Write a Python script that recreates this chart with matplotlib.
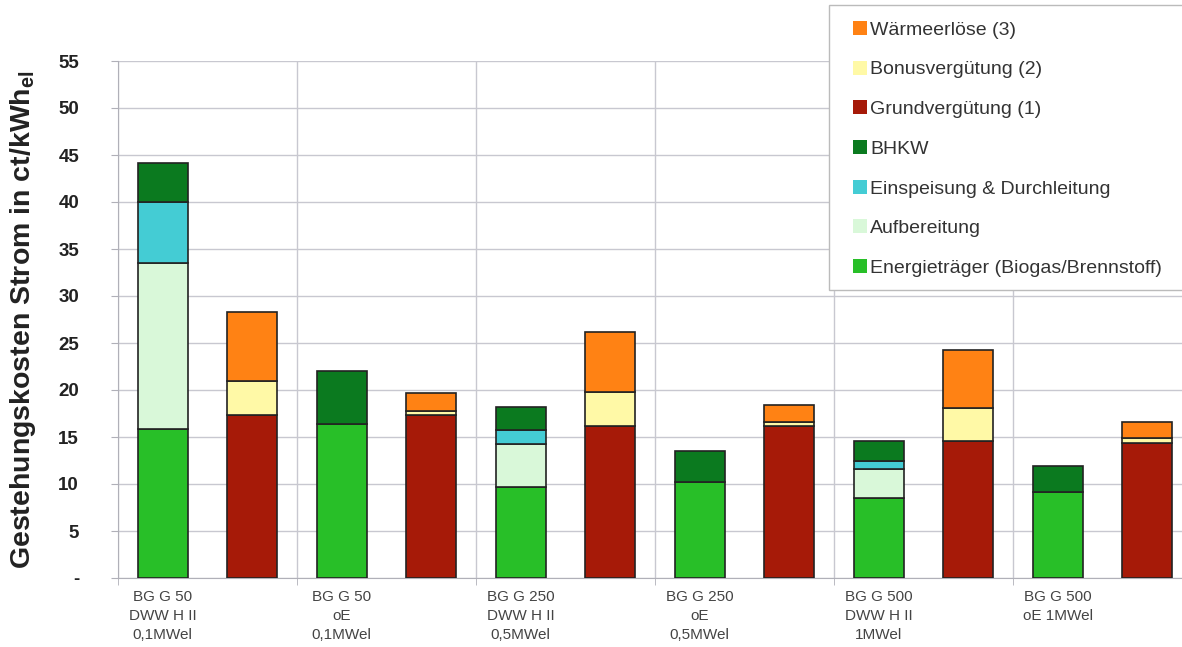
import matplotlib
matplotlib.use("Agg")
import matplotlib.pyplot as plt
from matplotlib.patches import Patch, Rectangle
import numpy as np

plt.rcParams['font.family'] = ['Liberation Sans', 'DejaVu Sans']
plt.rcParams['mathtext.fontset'] = 'custom'
plt.rcParams['mathtext.rm'] = 'Liberation Sans'
plt.rcParams['mathtext.bf'] = 'Liberation Sans:bold'

categories = ["BG G 50\nDWW H II\n0,1MWel", "BG G 50\noE\n0,1MWel",
              "BG G 250\nDWW H II\n0,5MWel", "BG G 250\noE\n0,5MWel",
              "BG G 500\nDWW H II\n1MWel", "BG G 500\noE 1MWel"]

# cost side (stacked)
energietraeger = [15.8, 16.4, 9.7, 10.2, 8.5, 9.2]
aufbereitung = [17.7, 0.0, 4.6, 0.0, 3.1, 0.0]
einspeisung = [6.5, 0.0, 1.4, 0.0, 0.8, 0.0]
bhkw = [4.1, 5.6, 2.5, 3.3, 2.2, 2.7]
# revenue side (stacked)
grundverguetung = [17.3, 17.3, 16.2, 16.2, 14.6, 14.4]
bonusverguetung = [3.7, 0.5, 3.6, 0.4, 3.5, 0.5]
waermeerloese = [7.3, 1.9, 6.4, 1.8, 6.2, 1.7]

yticks = [0, 5, 10, 15, 20, 25, 30, 35, 40, 45, 50, 55]
yticklabels = ["-", "5", "10", "15", "20", "25", "30", "35", "40", "45", "50", "55"]

c_energie = "#28bf28"
c_aufb = "#d9f8d9"
c_einsp = "#44ccd4"
c_bhkw = "#0b7a1f"
c_grund = "#a61a08"
c_bonus = "#fff9a6"
c_waerme = "#ff8214"
edge = "#222222"

W, H = 1182, 647
fig = plt.figure(figsize=(W / 100, H / 100), dpi=100)
ax = fig.add_axes([118 / W, 69 / H, 1074 / W, 517 / H])

n = len(categories)
idx = np.arange(n)
xc = idx + 0.25
xr = idx + 0.75
w = 0.28

cost_series = [(energietraeger, c_energie), (aufbereitung, c_aufb),
               (einspeisung, c_einsp), (bhkw, c_bhkw)]
bottom = np.zeros(n)
for vals, col in cost_series:
    v = np.array(vals)
    mask = v > 0
    ax.bar(xc[mask], v[mask], w, bottom=bottom[mask], color=col,
           edgecolor=edge, linewidth=1.2, zorder=3)
    bottom += v

rev_series = [(grundverguetung, c_grund), (bonusverguetung, c_bonus),
              (waermeerloese, c_waerme)]
bottom = np.zeros(n)
for vals, col in rev_series:
    v = np.array(vals)
    ax.bar(xr, v, w, bottom=bottom, color=col, edgecolor=edge,
           linewidth=1.2, zorder=3)
    bottom += v

ax.set_xlim(0, n)
ax.set_ylim(0, 55)
ax.set_yticks(yticks)
ax.set_yticklabels(yticklabels, fontsize=13.5, fontweight='bold', color='#222222')
ax.set_xticks(xc)
ax.set_xticklabels(categories, fontsize=11, color='#444444', linespacing=1.45)
ax.tick_params(axis='x', length=0, pad=8.5)
ax.set_xticks(np.arange(n + 1), minor=True)
ax.tick_params(axis='x', which='minor', length=5, color='#b0b0b8')
ax.tick_params(axis='y', length=5, color='#b0b0b8', pad=23)

ax.grid(axis='y', color='#c8c8d0', linewidth=1.0, zorder=0)
ax.grid(axis='x', which='minor', color='#c8c8d0', linewidth=1.0, zorder=0)
ax.grid(axis='x', which='major', visible=False)
for s in ['top', 'right']:
    ax.spines[s].set_visible(False)
for s in ['left', 'bottom']:
    ax.spines[s].set_color('#b0b0b8')

ax.set_ylabel(r"Gestehungskosten Strom in ct/kWh$_{\mathbf{el}}$",
              fontsize=20.5, fontweight='bold', color='#222222')
ax.yaxis.set_label_coords((38 - 118) / 1074, 0.5)

# legend frame
fig.add_artist(Rectangle((829 / W, 1 - 290 / H), 370 / W, 285 / H,
                         transform=fig.transFigure, facecolor='white',
                         edgecolor='#bbbbbb', linewidth=1.0, zorder=4))

handles = [Patch(facecolor=c_waerme, edgecolor='none'),
           Patch(facecolor=c_bonus, edgecolor='none'),
           Patch(facecolor=c_grund, edgecolor='none'),
           Patch(facecolor=c_bhkw, edgecolor='none'),
           Patch(facecolor=c_einsp, edgecolor='none'),
           Patch(facecolor=c_aufb, edgecolor='none'),
           Patch(facecolor=c_energie, edgecolor='none')]
labels = ["Wärmeerlöse (3)", "Bonusvergütung (2)", "Grundvergütung (1)", "BHKW",
          "Einspeisung & Durchleitung", "Aufbereitung",
          "Energieträger (Biogas/Brennstoff)"]
leg = fig.legend(handles, labels, loc='upper left',
                 bbox_to_anchor=(853 / W, 1 - 21 / H), fontsize=14,
                 frameon=False,
                 handlelength=0.72, handleheight=0.72, handletextpad=0.15,
                 labelspacing=1.13, borderpad=0, borderaxespad=0)
leg.set_zorder(5)
for t in leg.get_texts():
    t.set_color('#333333')

fig.savefig("out.png", dpi=100, facecolor='white')
